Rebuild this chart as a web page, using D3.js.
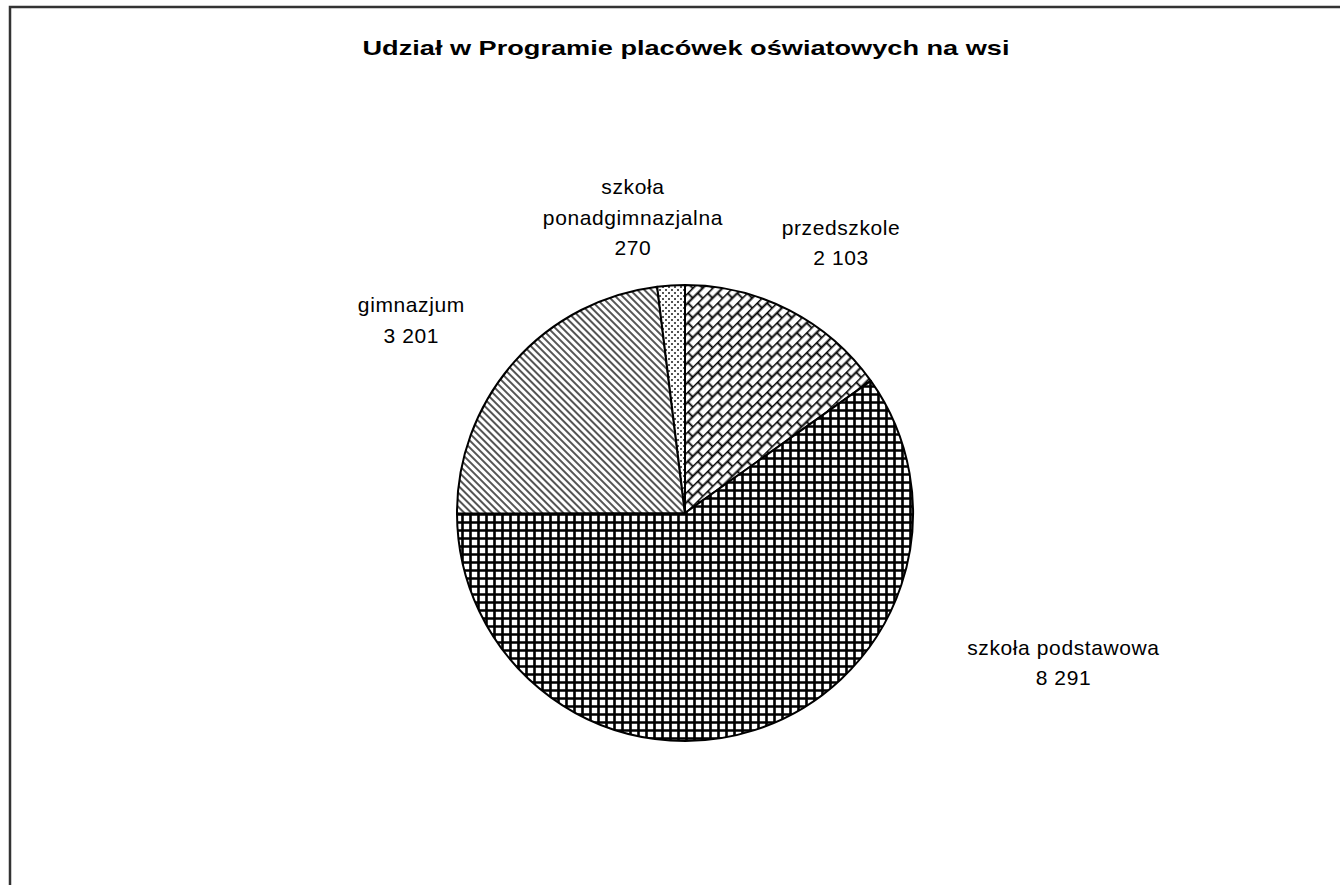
<!DOCTYPE html>
<html>
<head>
<meta charset="utf-8">
<script src="https://cdn.jsdelivr.net/npm/d3@7"></script>
<style>
  body { margin: 0; background: #fff; }
  text { font-family: "Liberation Sans", Arial, sans-serif; }
</style>
</head>
<body>
<div id="chart"></div>
<script>
// data
const categories = ["przedszkole", "szkoła podstawowa", "gimnazjum", "szkoła ponadgimnazjalna"];
const values = [2103, 8291, 3201, 270];
const valueLabels = ["2 103", "8 291", "3 201", "270"];
const labelLines = [["przedszkole"], ["szkoła podstawowa"], ["gimnazjum"], ["szkoła", "ponadgimnazjalna"]];
const title = "Udział w Programie placówek oświatowych na wsi";

const size = { width: 1340, height: 885 };
const center = { x: 685, y: 513 };
const radius = 228;

// label anchor: angle (deg, clockwise from 12 o'clock) and distance from centre
const labelAnchor = [
    { angle: 30, dist: 312 },
    { angle: 111.6, dist: 407 },
    { angle: 305.1, dist: 334.5 },
    { angle: 350, dist: 300 },
];

function main() {
    const svg = d3.select("#chart")
        .append("svg")
        .attr("width", size.width)
        .attr("height", size.height);

    const defs = svg.append("defs");

    // diagonal brick
    const brick = defs.append("pattern")
        .attr("id", "brick")
        .attr("patternUnits", "userSpaceOnUse")
        .attr("width", 14)
        .attr("height", 14)
        .attr("patternTransform", "rotate(-45)");
    brick.append("rect").attr("width", 14).attr("height", 14).attr("fill", "#fff");
    brick.append("path")
        .attr("d", "M0,0.5H14M0,7.5H14M3.5,0V7M10.5,7V14")
        .attr("stroke", "#000")
        .attr("stroke-width", 1.8)
        .attr("fill", "none");

    // crosshatch grid
    const grid = defs.append("pattern")
        .attr("id", "grid")
        .attr("patternUnits", "userSpaceOnUse")
        .attr("width", 8)
        .attr("height", 8);
    grid.append("rect").attr("width", 8).attr("height", 8).attr("fill", "#fff");
    grid.append("path")
        .attr("d", "M1.5,0V8M0,1.5H8")
        .attr("stroke", "#000")
        .attr("stroke-width", 2.6);

    // diagonal lines
    const diag = defs.append("pattern")
        .attr("id", "diag")
        .attr("patternUnits", "userSpaceOnUse")
        .attr("width", 5)
        .attr("height", 5)
        .attr("patternTransform", "rotate(45)");
    diag.append("rect").attr("width", 5).attr("height", 5).attr("fill", "#fff");
    diag.append("path")
        .attr("d", "M0,1H5")
        .attr("stroke", "#555")
        .attr("stroke-width", 2);

    // sparse dots
    const dots = defs.append("pattern")
        .attr("id", "dots")
        .attr("patternUnits", "userSpaceOnUse")
        .attr("width", 6)
        .attr("height", 6);
    dots.append("rect").attr("width", 6).attr("height", 6).attr("fill", "#fff");
    dots.append("rect").attr("x", 1).attr("y", 1).attr("width", 2).attr("height", 2).attr("fill", "#555");
    dots.append("rect").attr("x", 4).attr("y", 4).attr("width", 2).attr("height", 2).attr("fill", "#555");

    const fills = d3.scaleOrdinal()
        .domain(categories)
        .range(["url(#brick)", "url(#grid)", "url(#diag)", "url(#dots)"]);

    // frame
    svg.append("rect")
        .attr("x", 10)
        .attr("y", 7)
        .attr("width", size.width + 20)
        .attr("height", size.height + 20)
        .attr("fill", "none")
        .attr("stroke", "#333")
        .attr("stroke-width", 2.5);

    svg.append("text")
        .attr("x", 686)
        .attr("y", 55)
        .attr("text-anchor", "middle")
        .attr("font-size", 21)
        .attr("font-weight", "bold")
        .attr("textLength", 647)
        .attr("lengthAdjust", "spacingAndGlyphs")
        .text(title);

    const data = categories.map((c, i) => ({ name: c, value: values[i], i: i }));

    const pie = d3.pie()
        .sort(null)
        .value(d => d.value);

    const arc = d3.arc()
        .innerRadius(0)
        .outerRadius(radius);

    const g = svg.append("g")
        .attr("transform", `translate(${center.x}, ${center.y})`);

    g.selectAll(".slice")
        .data(pie(data))
        .enter()
        .append("path")
        .attr("class", "slice")
        .attr("d", arc)
        .attr("fill", d => fills(d.data.name))
        .attr("stroke", "#000")
        .attr("stroke-width", 2)
        .attr("stroke-linejoin", "round");

    const labels = g.selectAll(".label")
        .data(data)
        .enter()
        .append("text")
        .attr("class", "label")
        .attr("text-anchor", "middle")
        .attr("font-size", 21)
        .attr("letter-spacing", 0.6)
        .attr("transform", (d) => {
            const a = labelAnchor[d.i].angle * Math.PI / 180;
            const r = labelAnchor[d.i].dist;
            return `translate(${Math.sin(a) * r}, ${-Math.cos(a) * r})`;
        });

    labels.each(function (d) {
        const lines = labelLines[d.i].concat([valueLabels[d.i]]);
        const n = lines.length;
        d3.select(this).selectAll("tspan")
            .data(lines)
            .enter()
            .append("tspan")
            .attr("x", 0)
            .attr("y", (l, k) => (k - (n - 1) / 2) * 30.5 + 7)
            .text(l => l);
    });
}

main()
</script>
</body>
</html>
